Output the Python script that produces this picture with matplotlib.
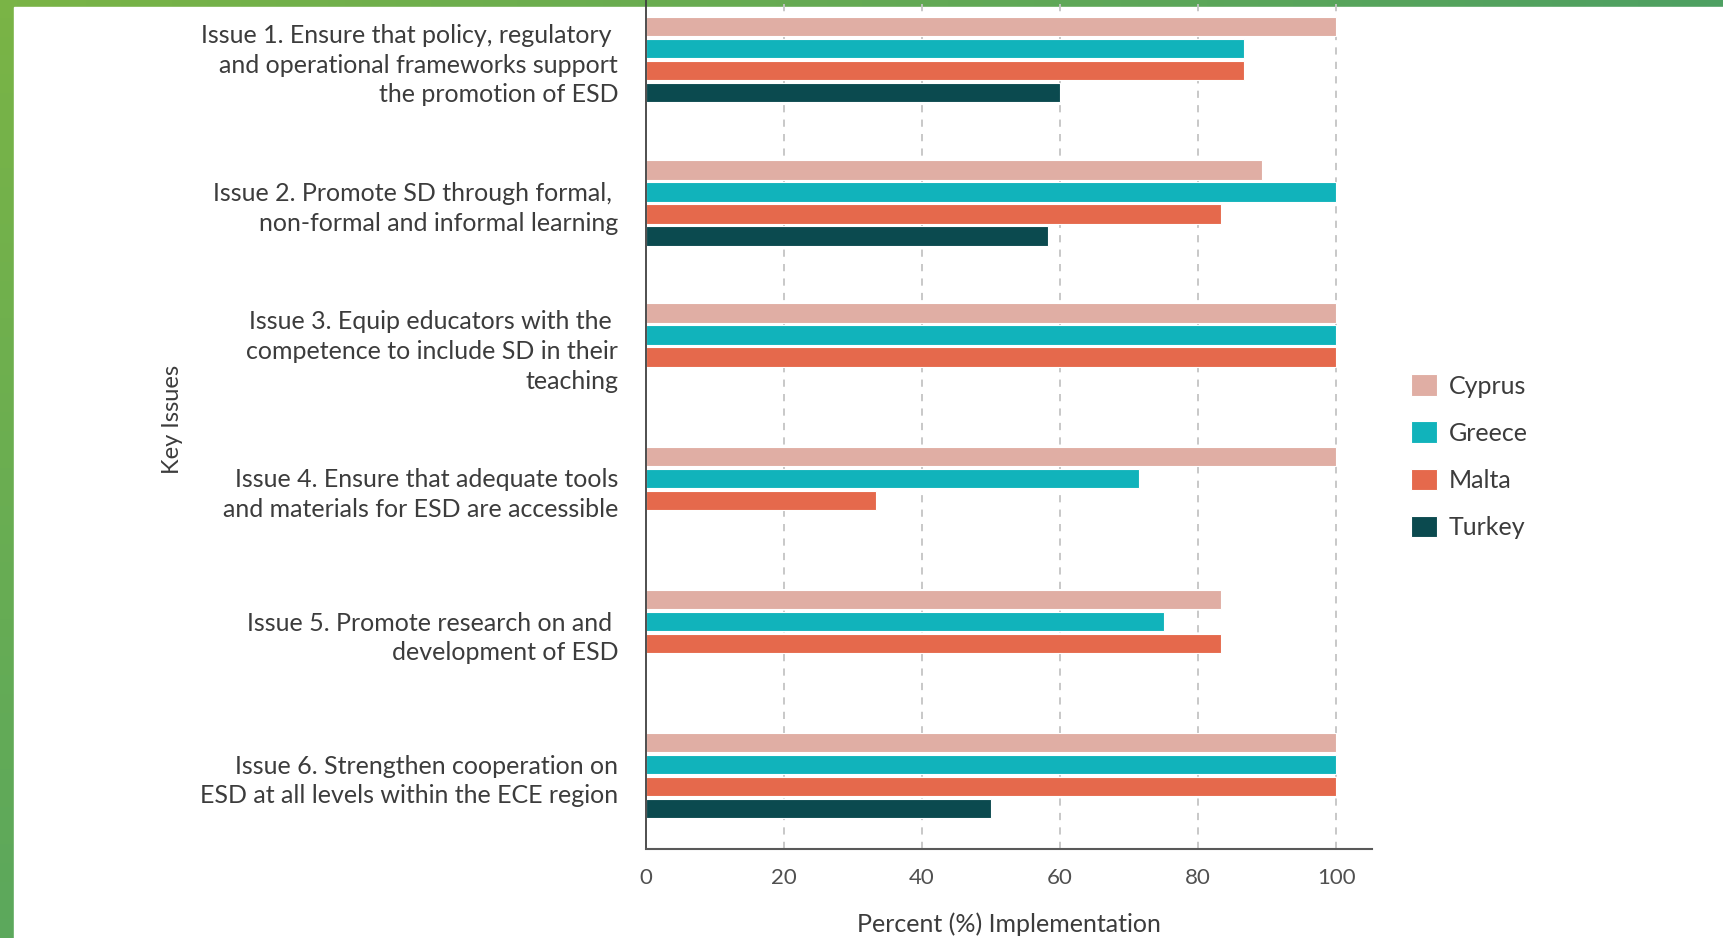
import matplotlib.pyplot as plt
import numpy as np
from matplotlib.patches import Rectangle

plt.rcParams['font.family'] = ['Lato', 'DejaVu Sans']

# Data
issues = [
    "Issue 1. Ensure that policy, regulatory \nand operational frameworks support\nthe promotion of ESD",
    "Issue 2. Promote SD through formal, \nnon-formal and informal learning",
    "Issue 3. Equip educators with the \ncompetence to include SD in their\nteaching",
    "Issue 4. Ensure that adequate tools\nand materials for ESD are accessible",
    "Issue 5. Promote research on and \ndevelopment of ESD",
    "Issue 6. Strengthen cooperation on\nESD at all levels within the ECE region",
]
countries = ["Cyprus", "Greece", "Malta", "Turkey"]
cyprus = [100, 89.3, 100, 100, 83.3, 100]
greece = [86.7, 100, 100, 71.4, 75.0, 100]
malta = [86.7, 83.3, 100, 33.3, 83.3, 100]
turkey = [60.0, 58.3, 0, 0, 0, 50.0]
colors = ["#e0aea4", "#11b3bb", "#e5694c", "#0b4a4f"]
xticks = [0, 20, 40, 60, 80, 100]

series = [cyprus, greece, malta, turkey]

fig = plt.figure(figsize=(17.24, 9.38), dpi=100)

# green frame on the left and top
bg = fig.add_axes([0, 0, 1, 1], zorder=-10)
grad = np.zeros((50, 100, 3))
c_tl = np.array([0x7a, 0xb4, 0x46]) / 255
c_tr = np.array([0x4e, 0xa0, 0x62]) / 255
c_bl = np.array([0x5c, 0xa8, 0x5c]) / 255
for r in range(50):
    for c in range(100):
        grad[r, c] = c_tl + (c_tr - c_tl) * c / 99 + (c_bl - c_tl) * r / 49
bg.imshow(grad, extent=[0, 1, 0, 1], aspect='auto')
bg.add_patch(Rectangle((14 / 1724, 0), 1, 1 - 7 / 938, color='white'))
bg.set_xlim(0, 1)
bg.set_ylim(0, 1)
bg.axis('off')

ax = fig.add_axes([646 / 1724, 0.0949, 726 / 1724, 0.9195])
ax.patch.set_visible(False)
y = np.arange(len(issues))
slot = 0.1536
for i, (name, vals) in enumerate(zip(countries, series)):
    ax.barh(y + (i - 1.5) * slot, vals, height=0.135, color=colors[i],
            edgecolor='white', linewidth=0.8, label=name, zorder=2)

ax.set_ylim(len(issues) - 0.488, -0.512)
ax.set_xlim(0, 105.2)
ax.set_yticks(y)
ax.set_yticklabels(issues, fontsize=18, color='#3c3c3c', linespacing=1.35)
ax.set_xticks(xticks)
ax.set_xticklabels([str(t) for t in xticks], fontsize=16, color='#505050')
ax.tick_params(axis='y', length=0, pad=20)
ax.tick_params(axis='x', length=0, pad=14)

for t in xticks[1:]:
    ax.axvline(t, color='#c4c4c4', linestyle=(0, (4, 4)), linewidth=1.3, zorder=1)

for s in ['top', 'right']:
    ax.spines[s].set_visible(False)
ax.spines['left'].set_color('#404040')
ax.spines['left'].set_linewidth(1.3)
ax.spines['bottom'].set_color('#595959')
ax.spines['bottom'].set_linewidth(1.5)
for s in ['left', 'bottom']:
    ax.spines[s].set_zorder(4)

ax.set_xlabel("Percent (%) Implementation", fontsize=18, color='#3c3c3c', labelpad=17)
fig.text(0.0998, 0.553, "Key Issues", rotation=90, fontsize=17, color='#3c3c3c',
         ha='center', va='center')

fig.legend(loc='upper left', bbox_to_anchor=(0.8184, 0.601), frameon=False,
           fontsize=18, handlelength=1.05, handleheight=0.95, handletextpad=0.45,
           labelspacing=0.95, borderpad=0, borderaxespad=0, labelcolor='#3c3c3c')

fig.savefig("out.png", dpi=100)
